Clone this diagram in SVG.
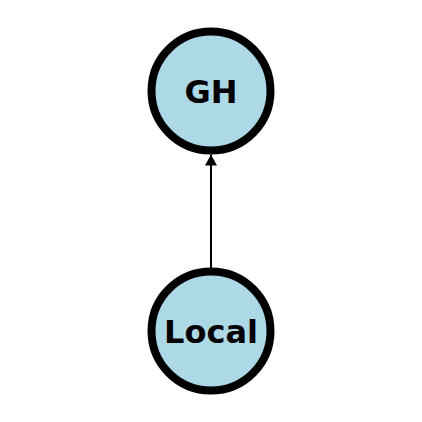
<svg xmlns="http://www.w3.org/2000/svg" width="422" height="422" viewBox="0 0 422 422">
<style>
.node circle{fill:#add8e6;stroke:#000;stroke-width:8}
.node text{font-family:"DejaVu Sans",sans-serif;font-weight:bold;font-size:32px;text-anchor:middle;fill:#000}
.edge{stroke:#000;stroke-width:2;fill:none}
</style>
<defs>
<marker id="arr" viewBox="0 0 11 12" refX="11" refY="6" markerWidth="11" markerHeight="12" orient="auto" markerUnits="userSpaceOnUse">
<path d="M0,0 L11,6 L0,12 z" fill="#000"/>
</marker>
</defs>
<rect width="422" height="422" fill="#fff"/>
<g id="connectors">
<line class="edge" x1="211" y1="268" x2="211" y2="154.5" marker-end="url(#arr)"/>
</g>
<g id="GH" class="node">
<circle cx="211" cy="91" r="59.5"/>
<text x="211" y="102.5">GH</text>
</g>
<g id="Local" class="node">
<circle cx="211" cy="331" r="59.5"/>
<text x="211" y="342.5">Local</text>
</g>
</svg>
